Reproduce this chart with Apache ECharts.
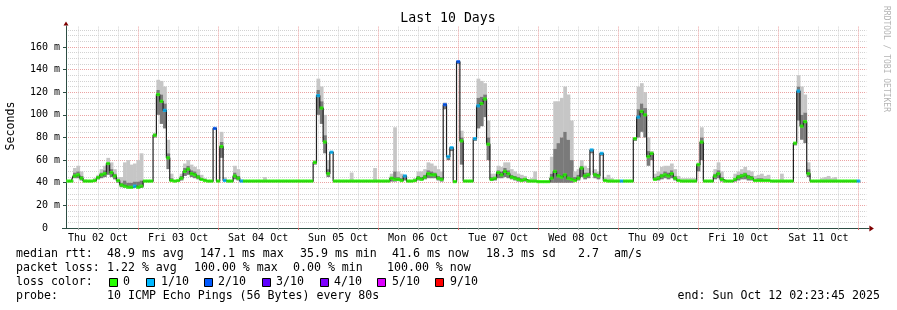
<!DOCTYPE html>
<html><head><meta charset="utf-8">
<script src="https://cdn.jsdelivr.net/npm/echarts@6/dist/echarts.min.js"></script>
<style>html,body{margin:0;padding:0;background:#fff}#c{width:897px;height:310px}</style>
</head><body><div id="c"></div><script>
// ---- data: one sample per hour, hour counted from Thu 02 Oct 00:00 ----
const FIRST_HOUR = 3;
const START_HOUR = 2.3958;   // Thu 02 Oct 02:23:45
const END_HOUR = 242.3958;   // Sun 12 Oct 02:23:45

const median = [
  41.5,41.5,46,47,44,41.5,41.5,41.5,42,44.5,47,48,
  57,49,46,42,38,37,36,36,37,36,37,41.5,
  41.5,41.5,82,118,112,104,62,42,41.5,42,44,50,
  52,48,47,45,43,42,41.5,41.5,88,41.5,72,42,
  41.5,41.5,46,44,41.5,41.5,41.5,41.5,41.5,41.5,41.5,41.5,
  41.5,41.5,41.5,41.5,41.5,41.5,41.5,41.5,41.5,41.5,41.5,41.5,
  41.5,41.5,58,117,106,76,48,67,41.5,41.5,41.5,41.5,
  41.5,41.5,41.5,41.5,41.5,41.5,41.5,41.5,41.5,41.5,41.5,41.5,
  41.5,44,43,43,42,46,41.5,41.5,42,44,43,45,
  48,47,47,44,43,109,63,71,41,147,77,41.5,
  41.5,41.5,79,108,110,114,74,43,44,49,47,50,
  48,45,44,43,42,43,41.5,41.5,41.5,41,41,41,
  41,44,50,46,45,47,44,43,42,44,53,46,
  47,69,47,46,66,42,41.5,41.5,41.5,41.5,41.5,41.5,
  41.5,41.5,79,98,103,100,63,66,43,44,46,47,
  46,48,44,42,41.5,41.5,41.5,41.5,41.5,56,76,41.5,
  41.5,41.5,46,48,43,41.5,41.5,41.5,43,45,46,47,
  45,44,42,42,42,42,42,41.5,41.5,41.5,41.5,41.5,
  41.5,41.5,75,121,90,94,48,41.5,41.5,41.5,41.5,41.5,
  41.5,41.5,41.5,41.5,41.5,41.5,41.5,41.5,41.5,41.5
];
const smokeLo = [
  40.5,40.5,44,44,42,40.5,40.5,40.5,41,43,44,45,
  47,45,43,40,36,35.5,35,35,35.5,35,35.5,40.5,
  40.5,40.5,80,100,92,88,52,41,40.5,41,42,46,
  47,45,44,43,42,41,40.5,40.5,87,40.5,62,41,
  40.5,40.5,43,42,40.5,40.5,40.5,40.5,40.5,40.5,40.5,40.5,
  40.5,40.5,40.5,40.5,40.5,40.5,40.5,40.5,40.5,40.5,40.5,40.5,
  40.5,40.5,56,100,92,66,45,66,40.5,40.5,40.5,40.5,
  40.5,40.5,40.5,40.5,40.5,40.5,40.5,40.5,40.5,40.5,40.5,40.5,
  40.5,41,41,41.5,41,42,40.5,40.5,41,42,42,43,
  44,44,44,42,41,105,60,68,40,145,56,40.5,
  40.5,40.5,77,88,90,98,60,41.5,42,44,44,45,
  44,43,42,41,41,41,40.5,40.5,40.5,40,40,40,
  40,40,40,40,40,40,40,40,41,42,45,43,
  44,66,44,43,64,41,40.5,40.5,40.5,40.5,40.5,40.5,
  40.5,40.5,77,80,85,80,55,60,42,42,43,44,
  43,44,42,41,40.5,40.5,40.5,40.5,40.5,50,60,40.5,
  40.5,40.5,43,44,41,40.5,40.5,40.5,41,42,43,43,
  42,42,41,41,41,41,41,40.5,40.5,40.5,40.5,40.5,
  40.5,40.5,73,95,78,75,45,40.5,40.5,40.5,40.5,40.5,
  40.5,40.5,40.5,40.5,40.5,40.5,40.5,40.5,40.5,40.5
];
const smokeCore = [
  42,42,49,50,46,42,42,42,43,46,49,51,
  58,52,48,43,40,42,40,40,41,41,42,42,
  42,42,83,122,118,110,66,44,42,42.5,46,53,
  55,51,50,47,44,43,42,42,88,42,76,43,
  42,42,49,46,42,42,42,42,42,42,42,42,
  42,42,42,42,42,42,42,42,42,42,42,42,
  42,42,59,122,112,82,52,67,42,42,42,42,
  42,42,42,42,42,42,42,42,42,42,42,42,
  42,45,50,45,44,46,42,42,43,46,45,47,
  51,50,49,46,45,110,63,71,41.5,147,80,42,
  42,42,79,115,116,118,80,45,45,51,50,53,
  51,47,46,45,44,44,42,42,42,41.5,41.5,41.5,
  41.5,48,70,75,80,85,78,60,45,47,55,49,
  49,69,49,48,66,43,42,42,42,42,42,42,
  42,42,79,105,110,106,68,66,45,46,48,50,
  49,51,46,43,42,42,42,42,42,57,80,42,
  42,42,48,51,45,42,42,42,44,47,48,49,
  47,46,43,44,44,43,43,42,42,42,42,42,
  42,42,75,125,100,102,52,42,42,42,42,42,
  42,42,42,42,42,42,42,42,42,42
];
const smokeHi = [
  42.5,42.5,53,55,50,43,42.5,42.5,44,47,52,55,
  62,58,52,45,45,58,60,56,57,60,66,42.5,
  42.5,42.5,84,131,130,125,78,48,42.5,43,48,57,
  60,56,54,52,47,44,42.5,42.5,89,42.5,85,45,
  42.5,42.5,55,52,43,42.5,42.5,42.5,42.5,42.5,42.5,45,
  42.5,42.5,42.5,42.5,42.5,42.5,42.5,42.5,42.5,42.5,42.5,42.5,
  42.5,42.5,60,132,125,100,60,68,42.5,42.5,42.5,42.5,
  42.5,49,42.5,42.5,42.5,42.5,42.5,42.5,53,42.5,42.5,42.5,
  42.5,48,89,50,48,47,42.5,42.5,44,50,50,52,
  58,57,55,52,50,111,64,72,42,148,86,42.5,
  42.5,42.5,80,132,130,128,95,48,48,55,54,58,
  58,52,50,48,47,46,43,44,50,42,42,42,
  42,63,112,112,115,125,118,95,50,52,60,55,
  53,70,52,50,67,45,47,44,42.5,42.5,42.5,42.5,
  42.5,42.5,80,125,128,120,80,68,48,50,54,55,
  55,57,52,46,44,44,44,44,44,58,89,42.5,
  42.5,42.5,52,58,50,42.5,42.5,42.5,48,50,52,54,
  51,50,46,47,48,46,47,42.5,42.5,42.5,48,42.5,
  42.5,42.5,76,135,125,118,58,42.5,42.5,42.5,44,45,
  46,44,45,42.5,42.5,42.5,42.5,42.5,42.5,42.5
];
// hours that lost pings, and how many of 10
const lossHours  = [23,32,47,50,55,78,82,104,116,117,118,120,125,126,160,163,169,174,222,240];
const lossLevels = [ 1, 1, 2, 1, 1, 1, 1,  1,  2,  1,  1,  2,  1,  1,  1,  1,  1,  1,  1,  1];

const dayLabels = ['Thu 02 Oct','Fri 03 Oct','Sat 04 Oct','Sun 05 Oct','Mon 06 Oct',
                   'Tue 07 Oct','Wed 08 Oct','Thu 09 Oct','Fri 10 Oct','Sat 11 Oct'];
const yTicks = [0,20,40,60,80,100,120,140,160];
const lossSteps = ['0','1/10','2/10','3/10','4/10','5/10','9/10'];
const lossColors = ['#26ff00','#00b8ff','#0059ff','#5e00ff','#7e00ff','#dd00ff','#ff0000'];

// ---- build ----
const hours = median.map((_, i) => FIRST_HOUR + i);
const lossAt = {};
lossHours.forEach((h, i) => { lossAt[h] = lossLevels[i]; });
function colorFor(level) { return level >= 6 ? lossColors[6] : lossColors[level]; }

const dayTicks = [], sixTicks = [], noonTicks = [];
for (let h = 6; h < END_HOUR; h += 6) {
  if (h % 24 === 0) dayTicks.push(h); else sixTicks.push(h);
  if (h % 24 === 12) noonTicks.push(h);
}
const minorY = [];
for (let v = 5; v < 178; v += 5) if (v % 20 !== 0) minorY.push(v);

const FONT = 'DejaVu Sans Mono';
const RED = '#eba3a3', GRAY = '#d2d2d2', AXIS = '#2c4d43', ARROW = '#7f0000';
const SMOKE_OUT = '#c6c6c6', SMOKE_IN = '#7a7a7a';

const smokeData = hours.map((h, i) => [h, smokeLo[i], smokeCore[i], smokeHi[i]]);

const series = [
  { type:'custom', silent:true, z:2, data: smokeData,
    encode:{x:0, y:[1,2,3]},
    renderItem(params, api) {
      const h = api.value(0);
      const a = api.coord([h - 0.5, api.value(3)]);
      const b = api.coord([h + 0.5, api.value(2)]);
      const c = api.coord([h + 0.5, api.value(1)]);
      const w = b[0] - a[0] + 0.4;
      return { type:'group', children:[
        { type:'rect', shape:{x:a[0], y:a[1], width:w, height:b[1]-a[1]}, style:{fill:SMOKE_OUT} },
        { type:'rect', shape:{x:a[0], y:b[1], width:w, height:c[1]-b[1]}, style:{fill:SMOKE_IN} }
      ]};
    } },
  { type:'line', step:'middle', symbol:'none', silent:true,
    lineStyle:{width:1.2, color:'#202020'}, data: hours.map((h, i) => [h, median[i]]), z:3 },
  { type:'scatter', symbol:'rect', symbolSize:[3.7, 3.2], silent:true, z:4,
    data: median.map((v, i) => ({ value:[hours[i], v], itemStyle:{ color: colorFor(lossAt[hours[i]] || 0) } })) }
];

const chart = echarts.init(document.getElementById('c'), null, {renderer:'canvas'});

const graphic = [];
function txt(text, x, y, opt) {
  graphic.push(Object.assign({ type:'text', x, y, silent:true,
    style: Object.assign({ text, font: '11.6px "' + FONT + '"', fill:'#000',
      textAlign:'left', textVerticalAlign:'middle' }, opt && opt.style) }, opt && opt.el));
}
txt('Last 10 Days', 448, 19, {style:{font:'13.2px "' + FONT + '"', textAlign:'center'}});
txt('Seconds', 11, 126, {style:{textAlign:'center'}, el:{rotation:Math.PI/2}});
txt('RRDTOOL / TOBI OETIKER', 886, 59, {style:{font:'8px "' + FONT + '"', fill:'#b4b4b4', textAlign:'center'}, el:{rotation:-Math.PI/2}});

const L1 = 254.3, L2 = 268.3, L3 = 282.3, L4 = 296.2;
[['median rtt:',16],['48.9 ms avg',107],['147.1 ms max',200],['35.9 ms min',300],
 ['41.6 ms now',392],['18.3 ms sd',486],['2.7',578],['am/s',614]].forEach(a => txt(a[0], a[1], L1));
[['packet loss:',16],['1.22 % avg',107],['100.00 % max',194],['0.00 % min',293],['100.00 % now',387]]
  .forEach(a => txt(a[0], a[1], L2));
txt('loss color:', 16, L3);
const boxX = [109,146,204,262,320,377,435], labX = [123,161,218,276,334,392,450];
lossSteps.forEach((s, i) => {
  graphic.push({type:'rect', silent:true, shape:{x:boxX[i]+0.5, y:278.5, width:8, height:8},
    style:{fill:lossColors[i], stroke:'#000', lineWidth:1}});
  txt(s, labX[i], L3);
});
txt('probe:', 16, L4);
txt('10 ICMP Echo Pings (56 Bytes) every 80s', 107, L4);
txt('end: Sun Oct 12 02:23:45 2025', 880, L4, {style:{textAlign:'right'}});

chart.setOption({
  animation:false,
  backgroundColor:'#ffffff',
  grid:{left:66, right:30.6, top:26.6, bottom:82},
  xAxis:[
    { type:'value', min:START_HOUR, max:END_HOUR,
      axisLine:{show:true, lineStyle:{color:AXIS, width:1}},
      axisTick:{show:true, customValues:dayTicks, length:2, lineStyle:{color:'#e07070'}},
      axisLabel:{customValues:noonTicks, margin:5, color:'#000', fontFamily:FONT, fontSize:10,
        formatter: v => dayLabels[Math.round((v - 12) / 24)] },
      splitLine:{show:true, lineStyle:{color:RED, type:'dotted', width:1}} },
    { type:'value', min:START_HOUR, max:END_HOUR, position:'bottom',
      axisLine:{show:false}, axisLabel:{show:false},
      axisTick:{show:true, customValues:sixTicks, length:2, lineStyle:{color:'#aaaaaa'}},
      splitLine:{show:true, lineStyle:{color:GRAY, type:'dotted', width:1}} }
  ],
  yAxis:[
    { type:'value', min:0, max:178,
      axisLine:{show:true, lineStyle:{color:AXIS, width:1}},
      axisTick:{show:true, customValues:yTicks, length:3, lineStyle:{color:AXIS}},
      axisLabel:{customValues:yTicks, margin:6, color:'#000', fontFamily:FONT, fontSize:10,
        formatter: v => v === 0 ? '0  ' : v + ' m' },
      splitLine:{show:true, lineStyle:{color:RED, type:'dotted', width:1}} },
    { type:'value', min:0, max:178, position:'left',
      axisLine:{show:false}, axisLabel:{show:false},
      axisTick:{show:false, customValues:minorY},
      splitLine:{show:true, lineStyle:{color:GRAY, type:'dotted', width:1}} }
  ],
  series: series.map(s => Object.assign({xAxisIndex:0, yAxisIndex:0}, s)),
  graphic
});

// axis arrows
const o = chart.convertToPixel({gridIndex:0}, [START_HOUR, 0]);
const e = chart.convertToPixel({gridIndex:0}, [END_HOUR, 178]);
chart.setOption({ graphic: graphic.concat([
  {type:'polygon', silent:true, shape:{points:[[o[0]-2.5, e[1]-1],[o[0]+2.5, e[1]-1],[o[0], e[1]-5]]}, style:{fill:ARROW}},
  {type:'line', silent:true, shape:{x1:o[0]+0.5, y1:e[1]-1, x2:o[0]+0.5, y2:e[1]}, style:{stroke:AXIS}},
  {type:'line', silent:true, shape:{x1:o[0]-4, y1:o[1]+0.5, x2:e[0]+3, y2:o[1]+0.5}, style:{stroke:AXIS}},
  {type:'polygon', silent:true, shape:{points:[[e[0]+3, o[1]-2.5],[e[0]+3, o[1]+3.5],[e[0]+7.5, o[1]+0.5]]}, style:{fill:ARROW}}
])});
</script></body></html>
